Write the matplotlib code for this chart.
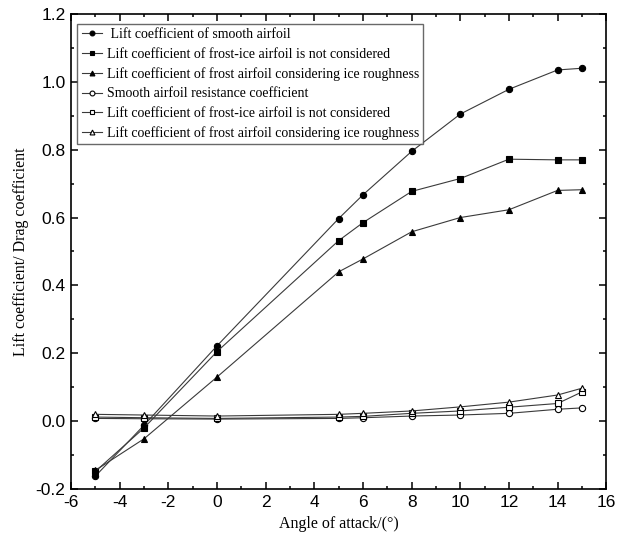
import matplotlib
matplotlib.use("Agg")
import matplotlib.pyplot as plt
from matplotlib.ticker import MultipleLocator

# angle of attack (deg)
alpha = [-5, -3, 0, 5, 6, 8, 10, 12, 14, 15]

# lift coefficients
cl_smooth = [-0.162, -0.012, 0.222, 0.597, 0.667, 0.795, 0.905, 0.978, 1.035, 1.040]
cl_frost = [-0.148, -0.020, 0.205, 0.532, 0.585, 0.677, 0.715, 0.772, 0.770, 0.770]
cl_rough = [-0.145, -0.052, 0.130, 0.440, 0.478, 0.558, 0.600, 0.623, 0.680, 0.682]

# drag coefficients
cd_smooth = [0.008, 0.007, 0.006, 0.008, 0.010, 0.015, 0.018, 0.023, 0.035, 0.039]
cd_frost = [0.012, 0.010, 0.008, 0.012, 0.014, 0.023, 0.030, 0.041, 0.052, 0.086]
cd_rough = [0.020, 0.018, 0.015, 0.020, 0.023, 0.030, 0.042, 0.056, 0.077, 0.097]

labels = [
    " Lift coefficient of smooth airfoil",
    "Lift coefficient of frost-ice airfoil is not considered",
    "Lift coefficient of frost airfoil considering ice roughness",
    "Smooth airfoil resistance coefficient",
    "Lift coefficient of frost-ice airfoil is not considered",
    "Lift coefficient of frost airfoil considering ice roughness",
]

serif = ["Liberation Serif", "DejaVu Serif"]
plt.rcParams["font.family"] = ["Liberation Sans", "DejaVu Sans"]
plt.rcParams["axes.unicode_minus"] = False

fig, ax = plt.subplots(figsize=(6.18, 5.37), dpi=100)
fig.subplots_adjust(left=0.115, right=0.981, top=0.974, bottom=0.0894)

line_kw = dict(color="#3a3a3a", lw=0.8, ms=4.5, mec="black", mew=0.8)
series = [
    (cl_smooth, "o", "black"), (cl_frost, "s", "black"), (cl_rough, "^", "black"),
    (cd_smooth, "o", "white"), (cd_frost, "s", "white"), (cd_rough, "^", "white"),
]
for (vals, mk, fc), lab in zip(series, labels):
    ax.plot(alpha, vals, marker=mk, mfc=fc, label=lab, **line_kw)

ax.set_xlim(-6, 16)
ax.set_ylim(-0.2, 1.2)
ax.xaxis.set_major_locator(MultipleLocator(2))
ax.xaxis.set_minor_locator(MultipleLocator(1))
ax.yaxis.set_major_locator(MultipleLocator(0.2))
ax.yaxis.set_minor_locator(MultipleLocator(0.1))
ax.yaxis.set_major_formatter(plt.FormatStrFormatter("%.1f"))
ax.tick_params(which="both", direction="in", top=True, right=True, labelsize=12.5)
ax.tick_params(which="major", length=5, width=1.1, pad=4)
ax.tick_params(which="minor", length=2.5, width=1.1)
for sp in ax.spines.values():
    sp.set_linewidth(1.2)

ax.set_xlabel("Angle of attack/(°)", family=serif, fontsize=11.5, labelpad=5)
ax.set_ylabel("Lift coefficient/ Drag coefficient", family=serif, fontsize=11.5, labelpad=5)

leg = ax.legend(loc="upper left", bbox_to_anchor=(0.012, 0.979), prop={"family": serif, "size": 10},
                handlelength=1.5, handletextpad=0.3, borderpad=0.3, labelspacing=0.47,
                frameon=True, fancybox=False, edgecolor="#444444", borderaxespad=0.0)
leg.get_frame().set_linewidth(1.0)
for h in leg.legend_handles:
    h.set_markersize(3.5)

fig.savefig("out.png", dpi=100)
